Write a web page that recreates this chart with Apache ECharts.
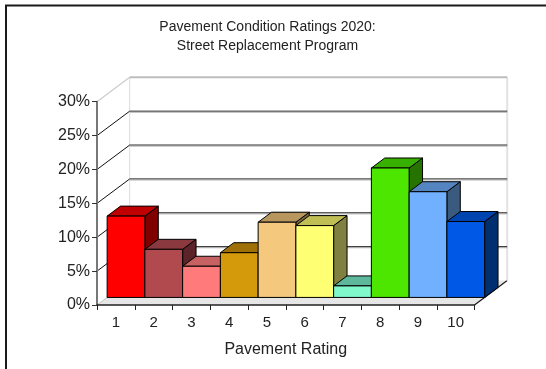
<!DOCTYPE html>
<html>
<head>
<meta charset="utf-8">
<script src="https://cdn.jsdelivr.net/npm/echarts@6/dist/echarts.min.js"></script>
<style>
  html, body { margin: 0; padding: 0; background: #fff; }
  #chart { width: 546px; height: 369px; }
</style>
</head>
<body>
<div id="chart"></div>
<script>
// Share of street segments at each pavement rating (percent)
const ratings = ['1', '2', '3', '4', '5', '6', '7', '8', '9', '10'];
const shares = [12.0, 7.1, 4.6, 6.6, 11.1, 10.6, 1.7, 19.1, 15.6, 11.2];
const percentTicks = [0, 5, 10, 15, 20, 25, 30];

// Face colours for each rating column: front, top, right side
const frontColors = ['#ff0000', '#b14a4f', '#ff7b7b', '#d49a0b', '#f5c97d', '#ffff73', '#80f8cc', '#4ce600', '#70b0ff', '#0058e6'];
const topColors   = ['#c00000', '#8a3a3f', '#c76262', '#a07008', '#b8975f', '#c0bf55', '#5eb89c', '#38b000', '#5585c0', '#0044b0'];
const sideColors  = ['#800000', '#5c2428', '#7f3d3d', '#6a4d05', '#7a643e', '#808040', '#407c66', '#267300', '#3a5a80', '#002f70'];

// Oblique 3D projection: full floor depth in pixels, and where the columns sit in it
const DX = 32.7, DY = -24.4;
const COL_FRONT = 0.31, COL_DEPTH = 0.41;
const FONT = '"Liberation Sans", Arial, sans-serif';

function line(x1, y1, x2, y2, color, width, z2) {
  return { type: 'line', z2: z2 || 0, shape: { x1, y1, x2, y2 },
           style: { stroke: color, lineWidth: width || 1 } };
}

// Floor, back wall and side wall with the percentage gridlines
function renderWalls(params, api) {
  const v = api.value(1);
  const last = ratings.length - 1;
  const maxTick = percentTicks[percentTicks.length - 1];
  const band = api.size([1, 0])[0];
  const pL = api.coord([0, v]);
  const pR = api.coord([last, v]);
  const x0 = pL[0] - band / 2, x1 = pR[0] + band / 2, y = pL[1];
  const bx0 = x0 + DX, bx1 = x1 + DX, by = y + DY;
  const children = [];
  if (v === 0) {
    const topY = api.coord([0, maxTick])[1] + DY;
    children.push({ type: 'polygon', shape: { points: [[x0, y], [x1, y], [bx1, by], [bx0, by]] },
                    style: { fill: '#e6e6e6' } });
    children.push(line(x0, y, bx0, by, '#c4c4c4', 1));
    children.push(line(x1, y, bx1, by, '#1a1a1a', 1.2));
    children.push(line(bx0, by, bx0, topY, '#dcdcdc', 1));
    children.push(line(bx1, by, bx1, topY, '#e2e2e2', 2));
  } else if (v === maxTick) {
    children.push(line(x0, y, bx0, by, '#cccccc', 1.2));
    children.push(line(bx0, by, bx1, by, '#bdbdbd', 2));
  } else {
    children.push(line(x0, y, bx0, by, '#111111', 1));
    children.push(line(bx0, by, bx1, by, '#111111', 1));
    children.push(line(bx0, by + 1, bx1, by + 1, '#a8a8a8', 1));
  }
  return { type: 'group', children };
}

// One 3D column per rating
function renderColumn(params, api) {
  const i = api.value(0);
  const v = api.value(1);
  const band = api.size([1, 0])[0];
  const base = api.coord([i, 0]);
  const top = api.coord([i, v]);
  const fx = DX * COL_FRONT, fy = DY * COL_FRONT;
  const dx = DX * COL_DEPTH, dy = DY * COL_DEPTH;
  const xL = base[0] - band / 2 + fx, xR = base[0] + band / 2 + fx;
  const yB = base[1] + fy, yT = top[1] + fy;
  const edge = { stroke: '#000', lineWidth: 1, lineJoin: 'round' };
  return {
    type: 'group',
    children: [
      { type: 'polygon', z2: i * 3,
        shape: { points: [[xR, yT], [xR + dx, yT + dy], [xR + dx, yB + dy], [xR, yB]] },
        style: Object.assign({ fill: sideColors[i] }, edge) },
      { type: 'polygon', z2: i * 3 + 1,
        shape: { points: [[xL, yT], [xR, yT], [xR + dx, yT + dy], [xL + dx, yT + dy]] },
        style: Object.assign({ fill: topColors[i] }, edge) },
      { type: 'rect', z2: i * 3 + 2,
        shape: { x: xL, y: yT, width: xR - xL, height: yB - yT },
        style: Object.assign({ fill: frontColors[i] }, edge) }
    ]
  };
}

const chart = echarts.init(document.getElementById('chart'), null, { renderer: 'canvas' });
chart.setOption({
  animation: false,
  backgroundColor: '#ffffff',
  textStyle: { fontFamily: FONT },
  graphic: [
    { type: 'rect', z: -10, shape: { x: 6, y: 5.5, width: 700, height: 500 },
      style: { fill: 'none', stroke: '#1a1a1a', lineWidth: 2 } },
    { type: 'text', x: 267.5, y: 17.5,
      style: { text: 'Pavement Condition Ratings 2020:\nStreet Replacement Program',
               font: '14px ' + FONT, fill: '#222', align: 'center', verticalAlign: 'top',
               lineHeight: 19 } }
  ],
  grid: { left: 97, right: 71.5, top: 101.7, bottom: 64, containLabel: false },
  xAxis: {
    type: 'category',
    data: ratings,
    z: 5,
    axisLine: { show: true, lineStyle: { color: '#222', width: 1.5 } },
    axisTick: { show: true, length: 5, lineStyle: { color: '#222', width: 1 } },
    axisLabel: { fontSize: 15, color: '#222', margin: 10, fontFamily: FONT },
    splitLine: { show: false },
    name: 'Pavement Rating',
    nameLocation: 'middle',
    nameGap: 37,
    nameTextStyle: { fontSize: 16, color: '#222', fontFamily: FONT }
  },
  yAxis: {
    type: 'value',
    min: 0,
    max: 30,
    interval: 5,
    z: 5,
    axisLine: { show: true, lineStyle: { color: '#777', width: 2 } },
    axisTick: { show: true, length: 5, lineStyle: { color: '#333', width: 1 } },
    axisLabel: { fontSize: 16, color: '#222', margin: 7, formatter: '{value}%', fontFamily: FONT },
    splitLine: { show: false }
  },
  series: [
    {
      type: 'custom',
      name: 'walls',
      z: 1,
      silent: true,
      renderItem: renderWalls,
      data: percentTicks.map(v => [0, v])
    },
    {
      type: 'custom',
      name: 'Share of streets',
      z: 2,
      renderItem: renderColumn,
      data: shares.map((v, i) => [i, v])
    }
  ]
});
</script>
</body>
</html>
